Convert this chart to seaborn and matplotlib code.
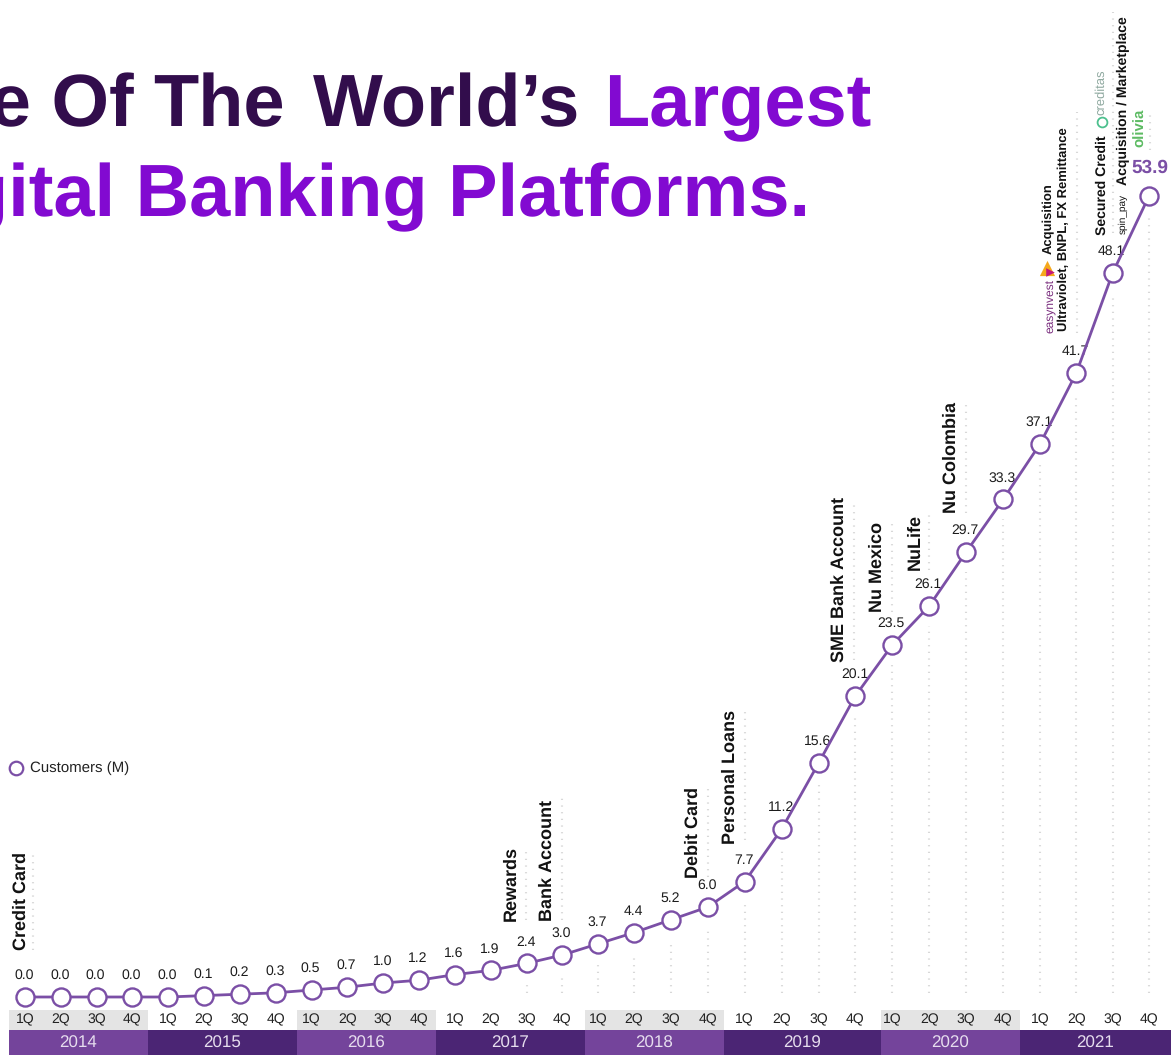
import matplotlib
matplotlib.use("Agg")
import matplotlib.pyplot as plt
import numpy as np
import pandas as pd
import seaborn as sns

customers = [0.0, 0.0, 0.0, 0.0, 0.0, 0.1, 0.2, 0.3, 0.5, 0.7, 1.0, 1.2,
             1.6, 1.9, 2.4, 3.0, 3.7, 4.4, 5.2, 6.0, 7.7, 11.2, 15.6, 20.1,
             23.5, 26.1, 29.7, 33.3, 37.1, 41.7, 48.1, 53.9]
quarters = ["1Q", "2Q", "3Q", "4Q"] * 8
years = ["2014", "2015", "2016", "2017", "2018", "2019", "2020", "2021"]
milestones = ["Credit Card", "Rewards", "Bank Account", "Debit Card", "Personal Loans",
              "SME Bank Account", "Nu Mexico", "NuLife", "Nu Colombia"]

PURPLE = "#7B4FA6"
DARK = "#320D4C"
BRIGHT = "#820AD1"
W, H = 1171, 1055

sns.set_theme(style="white")
plt.rcParams["font.family"] = ["Liberation Sans", "DejaVu Sans"]
plt.rcParams["text.hinting"] = "no_hinting"
plt.rcParams["text.hinting_factor"] = 1

fig = plt.figure(figsize=(W / 100, H / 100), dpi=100)
ax = fig.add_axes([0, 0, 1, 1])

# Piecewise axis scales: the drawing uses a slightly uneven pitch along both axes.
X_DATA = [-0.698, 0, 17, 28, 31, 31.62]
X_DRAW = [0, 25, 634, 1040, 1149, W]
Y_DATA = [-3.9, 0, 3, 6, 29.7, 37.1, 41.7, 48.1, 53.9, 68]
Y_DRAW = [H, 997, 955, 907, 552, 444, 373, 273, 196, 0]
Y_DRAW_FLIP = [H - v for v in Y_DRAW]


def x_forward(v):
    return np.interp(v, X_DATA, X_DRAW)


def x_inverse(v):
    return np.interp(v, X_DRAW, X_DATA)


def y_forward(v):
    return np.interp(v, Y_DATA, Y_DRAW_FLIP)


def y_inverse(v):
    return np.interp(v, Y_DRAW_FLIP, Y_DATA)


def px(x):
    return float(x_inverse(x))


def py(y):
    return float(y_inverse(H - y))


ax.set_xscale("function", functions=(x_forward, x_inverse))
ax.set_yscale("function", functions=(y_forward, y_inverse))
ax.set_xlim(X_DATA[0], X_DATA[-1])
ax.set_ylim(Y_DATA[0], Y_DATA[-1])
ax.axis("off")

# quarter and year strips along the bottom
year_edges = [9, 148, 297, 436, 585, 724, 881, 1020, 1171]
for i, label in enumerate(years):
    a, b = px(year_edges[i]), px(year_edges[i + 1])
    ax.bar((a + b) / 2, py(1030) - py(1055), width=b - a, bottom=py(1055),
           color="#74449B" if i % 2 == 0 else "#4B2574", linewidth=0, zorder=1)
    if i % 2 == 0:
        ax.bar((a + b) / 2, py(1010) - py(1030), width=b - a, bottom=py(1030),
               color="#E4E4E4", linewidth=0, zorder=1)
    ax.text(px((year_edges[i] + year_edges[i + 1]) / 2), py(1043), label, color="#E6DDEE",
            fontsize=12, ha="center", va="center", zorder=3)
for i, q in enumerate(quarters):
    ax.text(i, py(1019.5), q, color="#222222", fontsize=10.2, ha="center", va="center", zorder=3)

# dotted leaders: the part above each value label and the part under each marker
leaders = [(33, 855, 950), (526, 847, 920), (562, 798, 920), (708, 788, 877), (745, 710, 840),
           (854, 500, 660), (892, 523, 612), (929, 510, 570), (966, 402, 513),
           (1077, 112, 333), (1113, 12, 233), (1150, 110, 150)]
for x, top, bottom in leaders:
    ax.plot([px(x), px(x)], [py(bottom), py(top)], color="#D8D8D8", lw=1.5,
            ls=(0, (0.6, 2.6)), zorder=1.5)
for i, v in enumerate(customers):
    if i >= 14:
        start = float(y_forward(v))
        ax.plot([i, i], [py(993), py(H - start + 20)], color="#D8D8D8", lw=1.5,
                ls=(0, (0.6, 2.6)), zorder=1.5)

frame = pd.DataFrame({"quarter": range(len(customers)), "customers": customers})
sns.lineplot(data=frame, x="quarter", y="customers", ax=ax, color=PURPLE, linewidth=2.0,
             marker="o", markersize=13, markerfacecolor="white", markeredgecolor=PURPLE,
             markeredgewidth=1.7, zorder=4, legend=False, errorbar=None)
ax.set_xlim(X_DATA[0], X_DATA[-1])
ax.set_ylim(Y_DATA[0], Y_DATA[-1])
ax.axis("off")

# value labels above each marker
for i, v in enumerate(customers[:-1]):
    ypix = H - float(y_forward(v))
    ax.text(px(float(x_forward(i)) - 1), py(ypix - 21.5), f"{v:.1f}", color="#1c1c1c",
            fontsize=10.2, ha="center", va="center", zorder=3)
ax.text(px(1150), py(168), f"{customers[-1]:.1f}", color=PURPLE, fontsize=13.5,
        fontweight="bold", ha="center", va="center", zorder=5)

# milestone captions, rotated along the leaders
milestone_px = [(21, 950), (511, 921), (547, 921), (693, 878), (730, 844),
                (839, 662), (877, 612), (915, 570), (951, 513)]
for name, (x, y) in zip(milestones, milestone_px):
    ax.text(px(x), py(y), name, rotation=90, fontsize=13, fontweight="bold",
            color="#111111", ha="center", va="bottom", zorder=3)

for text, x, y, color, size, weight in [
    ("Acquisition", 1049, 254, "#111111", 9.5, "bold"),
    ("Ultraviolet, BNPL, FX Remittance", 1064, 331, "#111111", 9.5, "bold"),
    ("easynvest", 1051, 333, "#7A2E7E", 8.5, "normal"),
    ("Secured Credit", 1102, 235, "#111111", 10.4, "bold"),
    ("creditas", 1101, 115, "#8FA9A0", 9.6, "normal"),
    ("spin_pay", 1123, 234, "#111111", 7.4, "normal"),
    ("Acquisition / Marketplace", 1123, 185, "#111111", 10.4, "bold"),
    ("olivia", 1140, 147, "#5DBB63", 10.5, "bold"),
]:
    ax.text(px(x), py(y), text, rotation=90, fontsize=size, fontweight=weight, color=color,
            ha="center", va="bottom", zorder=3)

# small brand marks beside the captions
ax.scatter([px(1047)], [py(268)], marker="^", s=120, color="#F5A81C", linewidth=0, zorder=3)
ax.scatter([px(1050)], [py(272)], marker=">", s=38, color="#C2187C", linewidth=0, zorder=3.1)
ax.scatter([px(1102)], [py(122)], s=50, facecolor="white", edgecolor="#4CC08E", linewidth=1.3, zorder=3)

# legend entry
ax.scatter([px(16)], [py(768)], s=95, facecolor="white", edgecolor=PURPLE, linewidth=1.6, zorder=3)
ax.text(px(30), py(768), "Customers (M)", color="#222222", fontsize=11, ha="left", va="center")

# headline, running off the left edge
title_size = 53.5
for word, right in [("One Of", 134), ("The", 285), ("World\u2019s", 580)]:
    ax.text(px(right), py(126), word, color=DARK, fontsize=title_size,
            fontweight="bold", ha="right", va="baseline", zorder=6)
ax.text(px(604), py(126), "Largest", color=BRIGHT, fontsize=title_size,
        fontweight="bold", ha="left", va="baseline", zorder=6)
ax.text(px(810), py(216), "Digital Banking Platforms.", color=BRIGHT, fontsize=title_size,
        fontweight="bold", ha="right", va="baseline", zorder=6)

fig.savefig("out.png", dpi=100)
